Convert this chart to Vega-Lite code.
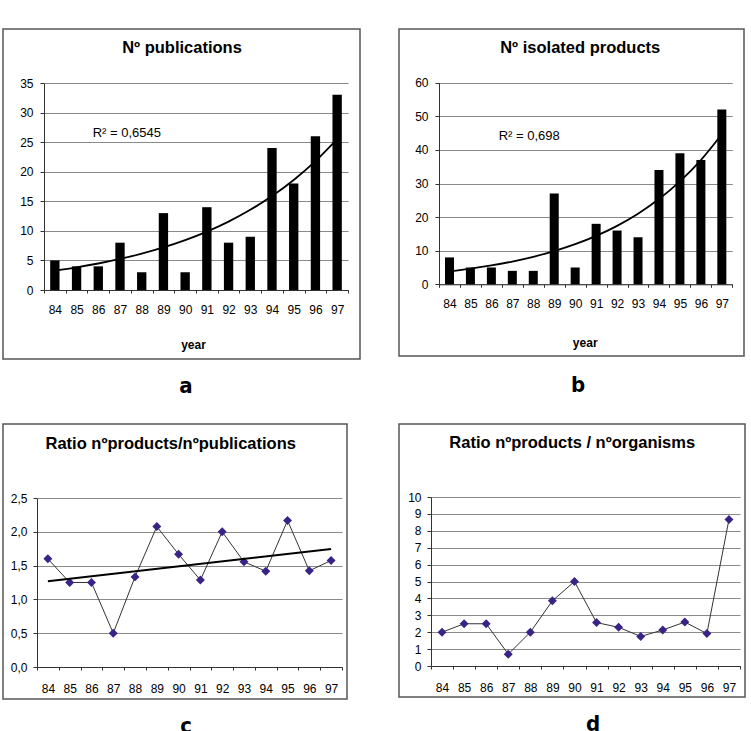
{
  "$schema": "https://vega.github.io/schema/vega-lite/v6.json",
  "background": "white",
  "padding": {"left": 2, "top": 28, "right": 5, "bottom": 5},
  "datasets": {
    "years": [
      {"year": 84, "publications": 5, "products": 8, "trend_pub": 3.27, "trend_prod": 3.85, "ratio_pub": 1.6, "ratio_org": 2.0},
      {"year": 85, "publications": 4, "products": 5, "trend_pub": 3.83, "trend_prod": 4.65, "ratio_pub": 1.25, "ratio_org": 2.5},
      {"year": 86, "publications": 4, "products": 5, "trend_pub": 4.48, "trend_prod": 5.61, "ratio_pub": 1.25, "ratio_org": 2.5},
      {"year": 87, "publications": 8, "products": 4, "trend_pub": 5.25, "trend_prod": 6.78, "ratio_pub": 0.5, "ratio_org": 0.7},
      {"year": 88, "publications": 3, "products": 4, "trend_pub": 6.15, "trend_prod": 8.18, "ratio_pub": 1.333, "ratio_org": 2.0},
      {"year": 89, "publications": 13, "products": 27, "trend_pub": 7.2, "trend_prod": 9.88, "ratio_pub": 2.077, "ratio_org": 3.86},
      {"year": 90, "publications": 3, "products": 5, "trend_pub": 8.43, "trend_prod": 11.93, "ratio_pub": 1.667, "ratio_org": 5.0},
      {"year": 91, "publications": 14, "products": 18, "trend_pub": 9.88, "trend_prod": 14.41, "ratio_pub": 1.286, "ratio_org": 2.57},
      {"year": 92, "publications": 8, "products": 16, "trend_pub": 11.57, "trend_prod": 17.4, "ratio_pub": 2.0, "ratio_org": 2.29},
      {"year": 93, "publications": 9, "products": 14, "trend_pub": 13.56, "trend_prod": 21.01, "ratio_pub": 1.556, "ratio_org": 1.75},
      {"year": 94, "publications": 24, "products": 34, "trend_pub": 15.88, "trend_prod": 25.37, "ratio_pub": 1.417, "ratio_org": 2.13},
      {"year": 95, "publications": 18, "products": 39, "trend_pub": 18.6, "trend_prod": 30.63, "ratio_pub": 2.167, "ratio_org": 2.6},
      {"year": 96, "publications": 26, "products": 37, "trend_pub": 21.78, "trend_prod": 36.98, "ratio_pub": 1.423, "ratio_org": 1.92},
      {"year": 97, "publications": 33, "products": 52, "trend_pub": 25.51, "trend_prod": 44.66, "ratio_pub": 1.576, "ratio_org": 8.67}
    ]
  },
  "spacing": 25,
  "vconcat": [
    {
      "spacing": 37,
      "hconcat": [
        {
          "width": 357,
          "height": 330,
          "data": {"name": "years"},
          "title": {"text": "a", "orient": "bottom", "anchor": "middle", "offset": 34, "baseline": "alphabetic", "dx": 4.5, "fontSize": 22, "font": "Liberation Sans Narrow, DejaVu Sans Condensed, sans-serif", "fontWeight": "bold", "color": "black"},
          "encoding": {
            "x": {
              "field": "year", "type": "ordinal",
              "scale": {"type": "band", "range": [41, 345], "paddingInner": 0, "paddingOuter": 0},
              "axis": {"orient": "bottom", "offset": -69, "labelAngle": 0, "labelPadding": 11, "tickSize": 3, "tickBand": "extent", "grid": false,
                       "title": "year", "titleX": 190, "titleY": 58.3, "titleAlign": "center", "titleBaseline": "alphabetic", "titleFontSize": 12, "titleFontWeight": "bold"}
            }
          },
          "layer": [
            {
              "mark": {"type": "bar", "color": "black", "width": {"band": 0.43}},
              "encoding": {
                "y": {"field": "publications", "type": "quantitative",
                      "scale": {"domain": [0, 35], "range": [261, 54], "nice": false},
                      "axis": {"values": [0, 5, 10, 15, 20, 25, 30, 35], "offset": -41, "tickSize": 4, "labelPadding": 7, "grid": true, "labelOverlap": false,
                               "title": "Nº publications", "titleAngle": 0, "titleX": 137.5, "titleY": 23.7, "titleAlign": "center", "titleBaseline": "alphabetic", "titleFontSize": 16.5, "titleFontWeight": "bold"}}
              }
            },
            {
              "mark": {"type": "line", "color": "black", "strokeWidth": 1.8, "interpolate": "monotone"},
              "encoding": {"y": {"field": "trend_pub", "type": "quantitative"}}
            },
            {
              "data": {"values": [{}]},
              "mark": {"type": "text", "align": "left", "baseline": "alphabetic", "fontSize": 13, "color": "black"},
              "encoding": {"x": {"datum": 86, "bandPosition": 0.24}, "y": {"datum": 25.9}, "text": {"value": "R² = 0,6545"}}
            }
          ]
        },
        {
          "width": 345,
          "height": 327,
          "data": {"name": "years"},
          "title": {"text": "b", "orient": "bottom", "anchor": "middle", "offset": 36, "baseline": "alphabetic", "dx": 6.5, "fontSize": 22, "font": "Liberation Sans Narrow, DejaVu Sans Condensed, sans-serif", "fontWeight": "bold", "color": "black"},
          "encoding": {
            "x": {
              "field": "year", "type": "ordinal",
              "scale": {"type": "band", "range": [40, 333.3], "paddingInner": 0, "paddingOuter": 0},
              "axis": {"orient": "bottom", "offset": -71.7, "labelAngle": 0, "labelPadding": 11, "tickSize": 3, "tickBand": "extent", "grid": false,
                       "title": "year", "titleX": 185.7, "titleY": 61.7, "titleAlign": "center", "titleBaseline": "alphabetic", "titleFontSize": 12, "titleFontWeight": "bold"}
            }
          },
          "layer": [
            {
              "mark": {"type": "bar", "color": "black", "width": {"band": 0.43}},
              "encoding": {
                "y": {"field": "products", "type": "quantitative",
                      "scale": {"domain": [0, 60], "range": [255.3, 53.7], "nice": false},
                      "axis": {"values": [0, 10, 20, 30, 40, 50, 60], "offset": -40, "tickSize": 4, "labelPadding": 7, "grid": true, "labelOverlap": false,
                               "title": "Nº isolated products", "titleAngle": 0, "titleX": 140.7, "titleY": 23, "titleAlign": "center", "titleBaseline": "alphabetic", "titleFontSize": 16.5, "titleFontWeight": "bold"}}
              }
            },
            {
              "mark": {"type": "line", "color": "black", "strokeWidth": 1.8, "interpolate": "monotone"},
              "encoding": {"y": {"field": "trend_prod", "type": "quantitative"}}
            },
            {
              "data": {"values": [{}]},
              "mark": {"type": "text", "align": "left", "baseline": "alphabetic", "fontSize": 13, "color": "black"},
              "encoding": {"x": {"datum": 86, "bandPosition": 0.85}, "y": {"datum": 42.9}, "text": {"value": "R² = 0,698"}}
            }
          ]
        }
      ]
    },
    {
      "spacing": 50,
      "hconcat": [
        {
          "width": 344,
          "height": 275,
          "data": {"name": "years"},
          "title": {"text": "c", "orient": "bottom", "anchor": "middle", "offset": 34, "baseline": "alphabetic", "dx": 11, "fontSize": 22, "font": "Liberation Sans Narrow, DejaVu Sans Condensed, sans-serif", "fontWeight": "bold", "color": "black"},
          "encoding": {
            "x": {
              "field": "year", "type": "ordinal",
              "scale": {"type": "band", "range": [34, 339], "paddingInner": 0, "paddingOuter": 0},
              "axis": {"orient": "bottom", "offset": -32, "labelAngle": 0, "labelPadding": 13, "tickSize": 3, "tickBand": "extent", "grid": false, "title": null}
            },
            "y": {"field": "ratio_pub", "type": "quantitative",
                  "scale": {"domain": [0, 2.5], "range": [243, 74], "nice": false},
                  "axis": {"values": [0, 0.5, 1, 1.5, 2, 2.5], "format": ".1f", "offset": -34, "tickSize": 4, "labelPadding": 6, "grid": true, "labelOverlap": false,
                           "title": "Ratio nºproducts/nºpublications", "titleAngle": 0, "titleX": 133.2, "titleY": 24.7, "titleAlign": "center", "titleBaseline": "alphabetic", "titleFontSize": 16.5, "titleFontWeight": "bold"}}
          },
          "layer": [
            {"mark": {"type": "line", "color": "#333333", "strokeWidth": 1}},
            {"mark": {"type": "point", "shape": "diamond", "filled": true, "size": 80, "color": "#3a2386", "opacity": 1}},
            {
              "transform": [{"regression": "ratio_pub", "on": "year"}],
              "mark": {"type": "line", "color": "black", "strokeWidth": 2}
            }
          ]
        },
        {
          "width": 346,
          "height": 273,
          "data": {"name": "years"},
          "title": {"text": "d", "orient": "bottom", "anchor": "middle", "offset": 34, "baseline": "alphabetic", "dx": 21, "fontSize": 22, "font": "Liberation Sans Narrow, DejaVu Sans Condensed, sans-serif", "fontWeight": "bold", "color": "black"},
          "encoding": {
            "x": {
              "field": "year", "type": "ordinal",
              "scale": {"type": "band", "range": [32, 341], "paddingInner": 0, "paddingOuter": 0},
              "axis": {"orient": "bottom", "offset": -31, "labelAngle": 0, "labelPadding": 13, "tickSize": 3, "tickBand": "extent", "grid": false, "title": null}
            },
            "y": {"field": "ratio_org", "type": "quantitative",
                  "scale": {"domain": [0, 10], "range": [242, 73], "nice": false},
                  "axis": {"values": [0, 1, 2, 3, 4, 5, 6, 7, 8, 9, 10], "offset": -32, "tickSize": 4, "labelPadding": 6, "grid": true, "labelOverlap": false,
                           "title": "Ratio nºproducts / nºorganisms", "titleAngle": 0, "titleX": 140.7, "titleY": 23.7, "titleAlign": "center", "titleBaseline": "alphabetic", "titleFontSize": 16.5, "titleFontWeight": "bold"}}
          },
          "layer": [
            {"mark": {"type": "line", "color": "#333333", "strokeWidth": 1}},
            {"mark": {"type": "point", "shape": "diamond", "filled": true, "size": 80, "color": "#3a2386", "opacity": 1}}
          ]
        }
      ]
    }
  ],
  "config": {
    "font": "Liberation Sans",
    "view": {"stroke": "#555555", "strokeWidth": 1.5, "fill": "white"},
    "axis": {
      "labelFont": "Liberation Sans", "labelFontSize": 12, "labelColor": "black",
      "titleFont": "Liberation Sans", "titleColor": "black",
      "domainColor": "#333333", "domainWidth": 1, "tickColor": "#333333", "tickWidth": 1,
      "gridColor": "#8a8a8a", "gridWidth": 1.2
    },
    "locale": {"number": {"decimal": ",", "thousands": ".", "grouping": [3], "currency": ["", " €"]}}
  }
}
